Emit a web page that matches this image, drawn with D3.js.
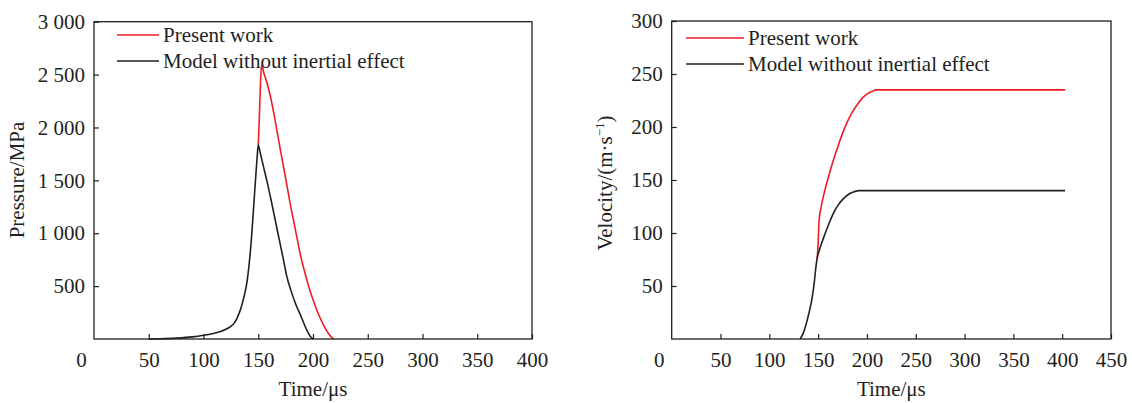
<!DOCTYPE html>
<html>
<head>
<meta charset="utf-8">
<script src="https://cdn.jsdelivr.net/npm/d3@7/dist/d3.min.js"></script>
<style>
  html, body { margin: 0; padding: 0; background: #fff; }
  svg { display: block; }
  text { font-family: "Liberation Serif", "Times New Roman", serif; fill: #231f20; }
</style>
</head>
<body>
<svg id="chart" width="1132" height="403"></svg>
<script>
// values: [time in µs, value]
var pressurePresent = [
  [150, 1834], [151, 2100], [152, 2400], [153, 2590], [155, 2520], [158, 2420],
  [161, 2300], [165, 2090], [170, 1800], [175, 1520], [179, 1290], [184, 1030],
  [188, 820], [192, 650], [197, 465], [202, 315], [206, 210], [210, 125],
  [214, 55], [217, 15], [219, 0]
];
var pressureNoInertia = [
  [50, 0], [60, 2], [75, 8], [90, 20], [100, 35], [110, 55], [115, 69], [120, 90],
  [125, 120], [128, 150], [131, 205], [134, 285], [137, 400], [140, 560], [142, 740],
  [144, 980], [146, 1280], [148, 1580], [149, 1720], [150, 1834], [152, 1750],
  [155, 1620], [158, 1490], [162, 1300], [166, 1100], [170, 900], [173, 750],
  [176, 595], [180, 455], [184, 335], [188, 240], [192, 140], [195, 70],
  [198, 18], [200, 0]
];
var velocityPresent = [
  [149, 76], [150, 90], [151, 112], [153, 124], [156, 137], [160, 151], [165, 167],
  [170, 181], [175, 194], [180, 205], [185, 214], [190, 221], [195, 227], [200, 231],
  [205, 233.5], [210, 235], [403, 235]
];
var velocityNoInertia = [
  [131.5, 0], [135, 6], [138, 15], [141, 26], [143.5, 37], [146, 53], [148, 70],
  [149, 76], [150, 80], [152, 86], [155, 94], [159, 104], [163, 113], [167, 121],
  [171, 127], [175, 131.5], [179, 135], [183, 137.5], [187, 139], [192, 140],
  [200, 140], [403, 140]
];

var pressureXTicks = [0, 50, 100, 150, 200, 250, 300, 350, 400];
var pressureYTicks = [500, 1000, 1500, 2000, 2500, 3000];
var velocityXTicks = [0, 50, 100, 150, 200, 250, 300, 350, 400, 450];
var velocityYTicks = [50, 100, 150, 200, 250, 300];

var seriesNames = ['Present work', 'Model without inertial effect'];
var seriesColors = ['#ee1c25', '#231f20'];

var ink = '#231f20',
    fontSize = 21,
    spaced = d3.formatLocale({ decimal: '.', thousands: ' ', grouping: [3], currency: ['', ''] }).format(',');

var svg = d3.select('#chart');

function drawPanel(opt) {
  var x = d3.scaleLinear().domain(opt.xDomain).range([opt.left, opt.right]),
      y = d3.scaleLinear().domain(opt.yDomain).range([opt.bottom, opt.top]),
      g = svg.append('g');

  // curves: red first so the black one sits on top where they overlap
  var line = d3.line()
    .x(function (d) { return x(d[0]); })
    .y(function (d) { return y(d[1]); })
    .curve(d3.curveMonotoneX);

  opt.series.forEach(function (s, i) {
    g.append('path')
      .datum(s)
      .attr('fill', 'none')
      .attr('stroke', seriesColors[i])
      .attr('stroke-width', 1.6)
      .attr('stroke-linejoin', 'round')
      .attr('d', line);
  });

  // bottom axis, ticks pointing inward
  var xAxis = g.append('g')
    .attr('transform', 'translate(0,' + opt.bottom + ')')
    .call(d3.axisBottom(x).tickValues(opt.xTicks).tickSizeInner(-5).tickSizeOuter(0).tickPadding(13));

  var yAxis = g.append('g')
    .attr('transform', 'translate(' + opt.left + ',0)')
    .call(d3.axisLeft(y).tickValues(opt.yTicks).tickSizeInner(-5).tickSizeOuter(0).tickPadding(9)
      .tickFormat(opt.yFormat));

  [xAxis, yAxis].forEach(function (ax) {
    ax.select('.domain').remove();
    ax.selectAll('line').attr('stroke', ink).attr('stroke-width', 1.2);
    ax.selectAll('text')
      .attr('fill', ink)
      .attr('font-size', fontSize)
      .attr('font-family', '"Liberation Serif", "Times New Roman", serif');
  });

  // the zero label sits left of the corner, no tick there
  xAxis.selectAll('.tick').filter(function (d) { return d === 0; })
    .each(function () {
      d3.select(this).select('line').remove();
      d3.select(this).select('text').attr('x', -13);
    });

  // frame
  g.append('rect')
    .attr('x', opt.left)
    .attr('y', opt.top)
    .attr('width', opt.right - opt.left)
    .attr('height', opt.bottom - opt.top)
    .attr('fill', 'none')
    .attr('stroke', ink)
    .attr('stroke-width', 1.3);

  // axis titles
  g.append('text')
    .attr('x', (opt.left + opt.right) / 2)
    .attr('y', 396)
    .attr('text-anchor', 'middle')
    .attr('font-size', fontSize)
    .text('Time/\u03bcs');

  var yt = g.append('text')
    .attr('transform', 'translate(' + opt.yTitleX + ',' + opt.yTitleY + ') rotate(-90)')
    .attr('text-anchor', 'middle')
    .attr('font-size', fontSize);
  opt.yTitle(yt);

  // legend
  seriesNames.forEach(function (name, i) {
    var ly = opt.legendY + i * 26;
    g.append('line')
      .attr('x1', opt.legendX)
      .attr('x2', opt.legendX + opt.legendLen)
      .attr('y1', ly)
      .attr('y2', ly)
      .attr('stroke', seriesColors[i])
      .attr('stroke-width', 1.4);
    g.append('text')
      .attr('x', opt.legendX + opt.legendLen + 4)
      .attr('y', ly)
      .attr('dy', '0.35em')
      .attr('font-size', fontSize)
      .text(name);
  });
}

drawPanel({
  left: 94, right: 532, top: 21.7, bottom: 339,
  xDomain: [0, 400], yDomain: [0, 3000],
  xTicks: pressureXTicks, yTicks: pressureYTicks,
  yFormat: spaced,
  series: [pressurePresent, pressureNoInertia],
  yTitleX: 24, yTitleY: 180,
  yTitle: function (t) { t.text('Pressure/MPa'); },
  legendX: 117, legendLen: 42, legendY: 35
});

drawPanel({
  left: 671.7, right: 1111, top: 21, bottom: 339,
  xDomain: [0, 450], yDomain: [0, 300],
  xTicks: velocityXTicks, yTicks: velocityYTicks,
  yFormat: d3.format('d'),
  series: [velocityPresent, velocityNoInertia],
  yTitleX: 612, yTitleY: 183,
  yTitle: function (t) {
    t.append('tspan').text('Velocity/(m\u00b7s');
    t.append('tspan').attr('font-size', 13).attr('dy', -8).text('\u22121');
    t.append('tspan').attr('dy', 8).text(')');
  },
  legendX: 686, legendLen: 58, legendY: 38
});
</script>
</body>
</html>
